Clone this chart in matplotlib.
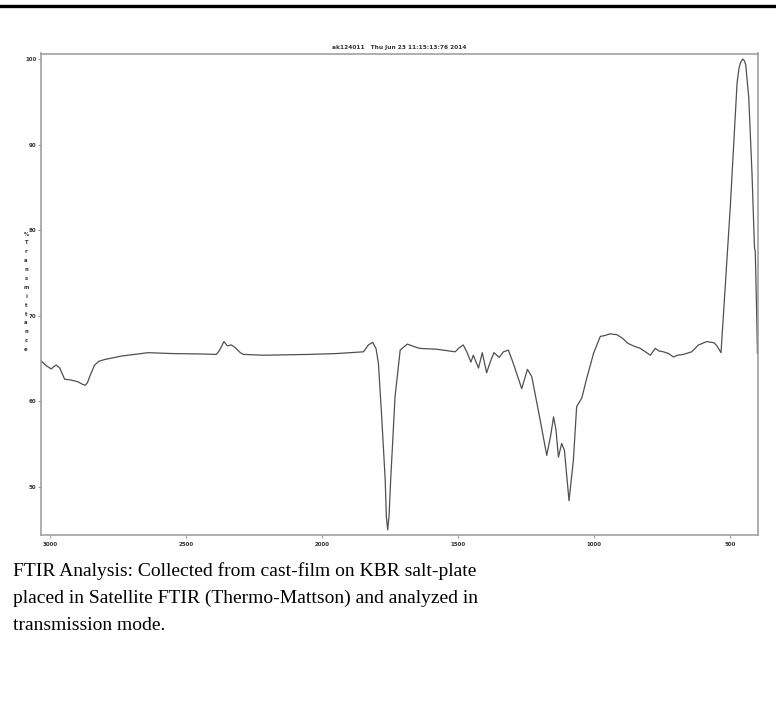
import matplotlib
matplotlib.use("Agg")
import matplotlib.pyplot as plt
from matplotlib.lines import Line2D

# FTIR spectrum (wavenumber cm-1, % transmittance)
wavenumber = [3033, 3015, 2995, 2985, 2977, 2964, 2946, 2922, 2897, 2880, 2870, 2862,
              2854, 2836, 2820, 2799, 2738, 2639, 2554, 2450, 2388, 2376, 2360, 2348,
              2333, 2319, 2300, 2289, 2215, 2043, 1945, 1847, 1829, 1813, 1801, 1792,
              1780, 1767, 1763, 1758, 1753, 1747, 1731, 1712, 1686, 1651, 1639, 1577,
              1510, 1494, 1480, 1467, 1452, 1443, 1424, 1410, 1394, 1381, 1367, 1348,
              1332, 1314, 1296, 1265, 1244, 1228, 1197, 1173, 1158, 1148, 1139, 1130,
              1118, 1108, 1091, 1075, 1063, 1044, 1026, 1001, 976, 960, 940, 915,
              895, 875, 855, 829, 810, 792, 774, 760, 744, 725, 707, 692,
              670, 640, 615, 584, 557, 545, 532, 498, 473, 466, 460, 452,
              446, 441, 430, 418, 409, 406, 400, 398]
transmittance = [64.75, 64.2, 63.8, 64.1, 64.25, 63.9, 62.6, 62.5, 62.3, 62.0, 61.9, 62.2,
                 62.9, 64.25, 64.7, 64.9, 65.3, 65.7, 65.6, 65.55, 65.5, 66.0, 67.0, 66.5,
                 66.6, 66.3, 65.7, 65.5, 65.4, 65.5, 65.6, 65.8, 66.6, 66.9, 66.2, 64.45,
                 58.2, 50.8, 46.6, 45.0, 46.6, 50.8, 60.5, 66.0, 66.7, 66.3, 66.2, 66.1,
                 65.8, 66.3, 66.6, 65.8, 64.6, 65.4, 63.9, 65.7, 63.35, 64.6, 65.7, 65.15,
                 65.8, 66.0, 64.45, 61.5, 63.75, 62.9, 57.8, 53.7, 56.1, 58.2, 56.7, 53.5,
                 55.1, 54.3, 48.4, 53.15, 59.4, 60.4, 62.7, 65.6, 67.6, 67.7, 67.9, 67.8,
                 67.4, 66.8, 66.5, 66.2, 65.8, 65.4, 66.2, 65.9, 65.8, 65.6, 65.2, 65.4,
                 65.5, 65.8, 66.6, 67.0, 66.85, 66.4, 65.7, 82.7, 97.2, 98.9, 99.6, 100.0,
                 99.8, 99.3, 95.5, 86.6, 78.0, 77.5, 69.0, 65.6]

x_ticks = [3000, 2500, 2000, 1500, 1000, 500]
y_ticks = [50, 60, 70, 80, 90, 100]
title = "ak124011   Thu Jun 23 11:15:13:76 2014"
ylabel = "%Transmittance"
caption = ["FTIR Analysis: Collected from cast-film on KBR salt-plate",
           "placed in Satellite FTIR (Thermo-Mattson) and analyzed in",
           "transmission mode."]

W, H = 776, 715
fig = plt.figure(figsize=(W / 100, H / 100), dpi=100)
fig.patch.set_facecolor("white")

# axes box in pixels: left 41, right 758, top 53.5, bottom 535
ax = fig.add_axes([41 / W, 1 - 535 / H, (758 - 41) / W, (535 - 53.5) / H])
ax.plot(wavenumber, transmittance, color="#505050", lw=0.9)
ax.set_xlim(3033, 396)
ax.set_ylim(44.4, 100.65)
ax.set_xticks(x_ticks)
ax.set_yticks(y_ticks)
ax.tick_params(direction="out", length=2.2, width=0.6, color="#888888",
               labelsize=4, pad=1.2)
ax.tick_params(axis="x", pad=2.5)
for lbl in ax.get_xticklabels() + ax.get_yticklabels():
    lbl.set_fontweight("bold")
    lbl.set_color("#333333")
for sp in ax.spines.values():
    sp.set_color("#999999")
    sp.set_linewidth(1.1)

fig.text(399 / W, 1 - 48 / H, title, ha="center", va="center",
         fontsize=4.2, fontweight="bold", color="#333333")

# vertical stacked y-axis label
y0 = 234
for i, ch in enumerate(ylabel):
    fig.text(26 / W, 1 - (y0 + i * 8.9) / H, ch, ha="center", va="center",
             fontsize=3.8, fontweight="bold", color="#333333")

# thick rule along the top of the page
fig.add_artist(Line2D([0, 1], [1 - 5.5 / H, 1 - 5.5 / H], color="black", lw=2.4,
                      transform=fig.transFigure))

for i, line in enumerate(caption):
    fig.text(13 / W, 1 - (571 + i * 27) / H, line, ha="left", va="center",
             fontsize=14, family="Liberation Serif", color="black")

fig.savefig("out.png", dpi=100)
